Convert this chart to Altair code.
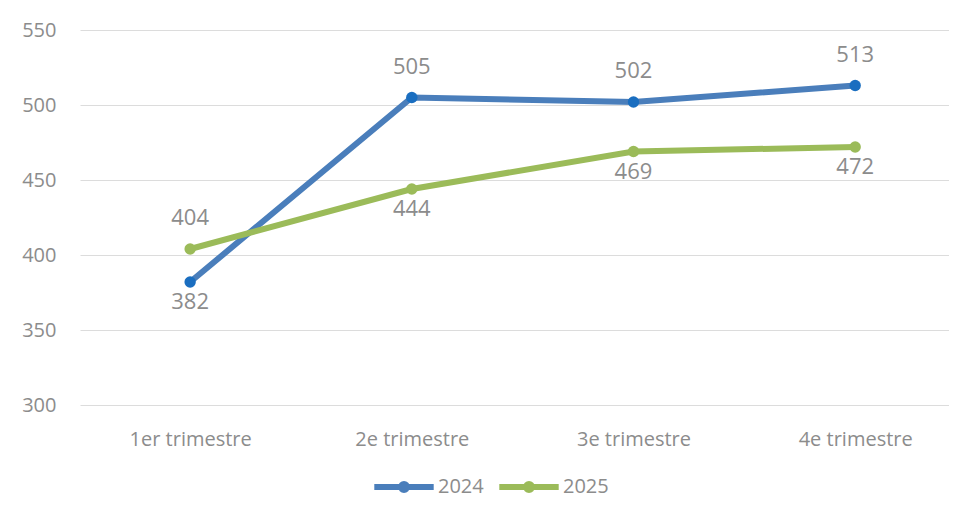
import altair as alt
import pandas as pd

quarters = ["1er trimestre", "2e trimestre", "3e trimestre", "4e trimestre"]
series = ["2024", "2025"]
v2024 = [382, 505, 502, 513]
v2025 = [404, 444, 469, 472]
pos2024 = ["below", "above", "above", "above"]
pos2025 = ["above", "below", "below", "below"]
y_ticks = [300, 350, 400, 450, 500, 550]

rows = []
for q, v, p in zip(quarters, v2024, pos2024):
    rows.append({"quarter": q, "value": v, "series": "2024", "pos": p})
for q, v, p in zip(quarters, v2025, pos2025):
    rows.append({"quarter": q, "value": v, "series": "2025", "pos": p})
df = pd.DataFrame(rows)

FONT = "Open Sans"
GREY = "#8c8c8c"
line_colors = ["#4a7ebb", "#9bbb59"]

x = alt.X(
    "quarter:N",
    sort=quarters,
    scale=alt.Scale(type="point", padding=0.46, align=0.54),
    axis=alt.Axis(title=None, labelAngle=0, domain=False, ticks=False, grid=False,
                  labelFontSize=20, labelColor=GREY, labelFont=FONT, labelPadding=24),
)
y = alt.Y(
    "value:Q",
    scale=alt.Scale(domain=[300, 550], nice=False, zero=False),
    axis=alt.Axis(title=None, values=y_ticks, domain=False, ticks=False,
                  gridColor="#dcdcdc", gridWidth=1,
                  labelFontSize=20, labelColor=GREY, labelFont=FONT, labelPadding=24),
)

# line + dot legend glyph (path units scaled by sqrt(size)/2)
legend_path = "M-2.7,0L2.7,0M0.27,0A0.27,0.27,0,1,1,-0.27,0A0.27,0.27,0,1,1,0.27,0Z"

base = alt.Chart(df)

lines = base.mark_line(strokeWidth=6, strokeCap="round").encode(
    x=x, y=y,
    color=alt.Color("series:N", sort=series,
                    scale=alt.Scale(domain=series, range=line_colors),
                    legend=alt.Legend(title=None, orient="none", direction="horizontal",
                                      legendX=310, legendY=443,
                                      symbolType=legend_path, symbolSize=484,
                                      symbolStrokeWidth=6, labelFontSize=20,
                                      labelColor=GREY, labelFont=FONT, labelOffset=20,
                                      columnPadding=3)),
)

points = base.mark_point(filled=True, size=130, opacity=1).encode(
    x=x, y=y,
    color=alt.condition(alt.datum.series == "2024", alt.value("#1a6ec0"), alt.value("#9bbb59")),
)

labels_above = base.transform_filter(alt.datum.pos == "above").mark_text(
    fontSize=22, font=FONT, color=GREY, dy=-31, baseline="middle"
).encode(x=x, y=y, text="value:Q")

labels_below = base.transform_filter(alt.datum.pos == "below").mark_text(
    fontSize=22, font=FONT, color=GREY, dy=20, baseline="middle"
).encode(x=x, y=y, text="value:Q")

chart = alt.layer(lines, points, labels_above, labels_below).properties(
    width=869, height=375,
    padding={"left": 72, "top": 22, "right": 0, "bottom": 93},
    autosize=alt.AutoSizeParams(type="none"),
).configure_view(stroke=None)

chart.save("out.html", embed_options={"renderer": "svg", "actions": False})
